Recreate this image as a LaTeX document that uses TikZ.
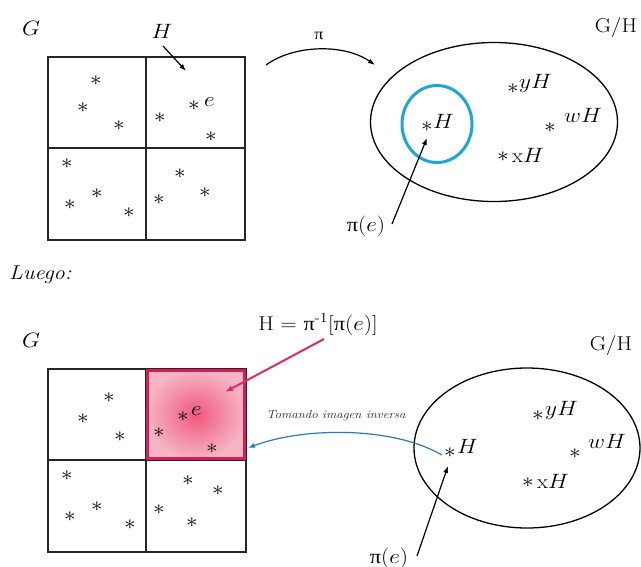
\documentclass[tikz,border=0pt]{standalone}
\usepackage{fontspec}
\newfontfamily\piff{Liberation Serif}
\usetikzlibrary{arrows.meta,shapes.geometric}
\definecolor{cyanb}{HTML}{1EA6DA}
\definecolor{bluea}{HTML}{2A7CB6}
\definecolor{pinkb}{HTML}{D21F5C}
\definecolor{pinka}{HTML}{E02A70}
\definecolor{pinkc}{HTML}{EF587E}
\definecolor{pinkl}{HTML}{F6B4C4}
\newcommand\wx[1]{\scalebox{1.12}[1]{#1}}
\newcommand\stt{\wx{$\ast$}}
\begin{document}
\begin{tikzpicture}[x=1pt,y=-1pt,
  lab/.style={inner sep=0pt, font=\fontsize{20}{22}\selectfont},
  st/.style={inner sep=0pt, font=\fontsize{20}{22}\selectfont},
  arr/.style={-{Latex[length=7pt,width=5pt]}, line width=1.2pt},
  box/.style={line width=1.5pt, draw=black!85},
  ell/.style={draw=black, line width=1.3pt, ellipse, inner sep=0pt}]
\useasboundingbox (0,0) rectangle (641,566);
\fill[white] (0,0) rectangle (641,566);

% ---------- top part ----------
\node[lab, anchor=base] (G1) at (31,35) {\wx{$G$}};
\draw[box] (48,57) rectangle (245,240);
\draw[box] (146,57) -- (146,240);
\draw[box] (48,148) -- (245,148);
\foreach \p [count=\i] in {{96,81},{83,108},{119,126},{160,118},{194,106},{211,137},
  {67,164},{70,205},{97,194},{129,213},{180,174},{159,200},{205,193}}
  \node[st] (ta\i) at (\p) {\stt};
\node[lab, anchor=base west] (e1) at (204,106) {\wx{$e$}};
\node[lab, anchor=base] (Hlab) at (162,38) {\wx{$H$}};
\coordinate (h1) at (163,46);
\coordinate (h2) at (186,71);
\draw[arr] (h1) -- (h2);

\node[inner sep=0pt, anchor=base, font=\fontsize{16}{18}\selectfont] (pi1) at (319,39) {\wx{\piff π}};
\coordinate (pa) at (266,65);
\coordinate (pb) at (375,65);
\draw[arr] (pa) .. controls (295,44) and (345,44) .. (pb);

\node[ell, minimum width=247pt, minimum height=159pt] (E1) at (494,122) {};
\node[draw=cyanb, line width=3pt, ellipse, inner sep=0pt, minimum width=70pt, minimum height=77pt] (C1) at (437,124) {};
\node[lab, anchor=base] (GH1) at (616,32) {\wx{G/H}};

\node[st] (sH1) at (427,127) {\stt};
\node[lab, anchor=base west] (lH1) at (433,128) {\wx{$H$}};
\node[st] (sy1) at (513,89) {\stt};
\node[lab, anchor=base west] (ly1) at (519,88) {\wx{$yH$}};
\node[st] (sw1) at (550,128) {\stt};
\node[lab, anchor=base west] (lw1) at (564,122) {\wx{$wH$}};
\node[st] (sx1) at (503,157) {\stt};
\node[lab, anchor=base west] (lx1) at (512,162) {\wx{$\mathrm{x}H$}};

\node[lab, anchor=base] (pe1) at (366,231) {\wx{{\piff π}$(e)$}};
\coordinate (q1) at (392,224);
\coordinate (q2) at (427,138);
\draw[arr] (q1) -- (q2);

% ---------- Luego ----------
\node[lab, anchor=base west] (luego) at (9,279) {\wx{\itshape Luego:}};

% ---------- bottom part ----------
\node[lab, anchor=base] (G2) at (31,347) {\wx{$G$}};
\draw[box] (48,369) rectangle (246,552);
\shade[inner color=pinkc, outer color=pinkl] (146.7,369.7) rectangle (245.3,459.3);
\draw[box] (146,369) -- (146,552);
\draw[box] (48,460) -- (246,460);
\draw[draw=pinkb, line width=3pt] (147.5,370.5) rectangle (244.5,458.5);
\foreach \p [count=\i] in {{109,398},{83,419},{120,437},{159,433},{183,417},{212,449},
  {67,476},{70,517},{97,507},{130,525},{188,481},{218,491},{159,510},{192,523}}
  \node[st] (tb\i) at (\p) {\stt};
\node[lab, anchor=base west] (e2) at (191,415) {\wx{$e$}};

\node[lab, anchor=base] (Heq) at (318,330) {\wx{H = {\piff π}\textsuperscript{-1}[{\piff π}$(e)$]}};
\coordinate (r1) at (324,339);
\coordinate (r2) at (225,392);
\draw[-{Latex[length=8pt,width=6pt]}, line width=2pt, draw=pinka] (r1) -- (r2);

\node[ell, minimum width=226pt, minimum height=160pt] (E2) at (527,448) {};
\node[lab, anchor=base] (GH2) at (611,350) {\wx{G/H}};
\node[st] (sH2) at (450,453) {\stt};
\node[lab, anchor=base west] (lH2) at (457,453) {\wx{$H$}};
\node[st] (sy2) at (538,416) {\stt};
\node[lab, anchor=base west] (ly2) at (545,415) {\wx{$yH$}};
\node[st] (sw2) at (575,454) {\stt};
\node[lab, anchor=base west] (lw2) at (588,448) {\wx{$wH$}};
\node[st] (sx2) at (528,483) {\stt};
\node[lab, anchor=base west] (lx2) at (537,488) {\wx{$\mathrm{x}H$}};

\node[inner sep=0pt, text=black!85, font=\fontsize{11.5}{13}\selectfont\itshape] (tom) at (336,416) {\wx{Tomando imagen inversa}};
\coordinate (b1) at (442,455);
\coordinate (b2) at (248,448);
\draw[-{Latex[length=7pt,width=5pt]}, line width=1.2pt, draw=bluea] (b1) .. controls (390,425) and (300,428) .. (b2);

\node[lab, anchor=base] (pe2) at (389,563) {\wx{{\piff π}$(e)$}};
\coordinate (s1) at (417,556);
\coordinate (s2) at (448,466);
\draw[arr] (s1) -- (s2);
\end{tikzpicture}
\end{document}
